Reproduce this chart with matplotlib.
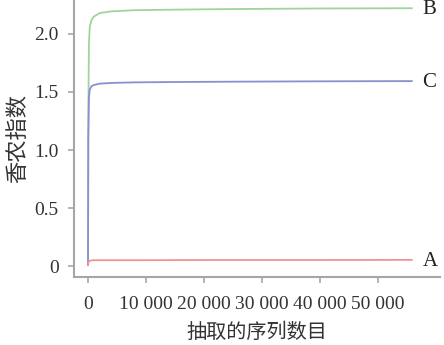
import matplotlib
matplotlib.use("Agg")
import matplotlib.pyplot as plt

# sequences sampled (x) and Shannon index for each sample
depth = [0, 50, 150, 300, 600, 1000, 2000, 4000, 8000, 15000, 25000, 40000, 56000]
shannon_b = [0.0, 1.2, 1.9, 2.06, 2.12, 2.15, 2.18, 2.195, 2.205, 2.21, 2.215, 2.22, 2.222]
shannon_c = [0.0, 1.1, 1.45, 1.52, 1.55, 1.56, 1.572, 1.578, 1.583, 1.586, 1.589, 1.592, 1.594]
shannon_a = [0.0, 0.03, 0.04, 0.045, 0.048, 0.05, 0.05, 0.05, 0.05, 0.051, 0.052, 0.052, 0.053]
labels = ["B", "C", "A"]

xticks = [0, 10000, 20000, 30000, 40000, 50000]
xtick_labels = ["0", "10 000", "20 000", "30 000", "40 000", "50 000"]
yticks = [0, 0.5, 1.0, 1.5, 2.0]
ytick_labels = ["0", "0.5", "1.0", "1.5", "2.0"]

SERIF = ["Liberation Serif", "DejaVu Serif"]
CJK = ["Noto Sans CJK SC", "DejaVu Sans"]
spine_col = "#aaa5a5"

fig = plt.figure(figsize=(4.44, 3.45), dpi=100)
ax = fig.add_axes([0.1667, 0.197, 0.824, 0.803])

series = [(shannon_b, "#9fd49a"), (shannon_c, "#8a8fd2"), (shannon_a, "#f09393")]
for (vals, col), lab in zip(series, labels):
    ax.plot(depth, vals, color=col, lw=1.3, solid_capstyle="butt")
    ax.annotate(lab, xy=(depth[-1], vals[-1]), xytext=(7, -1),
                textcoords="offset points", ha="left", va="center",
                fontsize=15, family=SERIF, color="#222222")

ax.set_xlim(-2414, 60690)
ax.set_ylim(-0.095, 2.293)

ax.set_xticks(xticks)
ax.set_xticklabels(xtick_labels, family=SERIF, fontsize=14, color="#333333")
ax.set_yticks(yticks)
ax.set_yticklabels(ytick_labels, family=SERIF, fontsize=14, color="#333333")

for s in ["top", "right"]:
    ax.spines[s].set_visible(False)
for s in ["left", "bottom"]:
    ax.spines[s].set_color(spine_col)
    ax.spines[s].set_linewidth(1.5)
ax.tick_params(axis="both", color=spine_col, length=4, width=1.2)
ax.tick_params(axis="x", pad=10)
ax.tick_params(axis="y", pad=7)

ax.set_xlabel("抽取的序列数目", family=CJK, fontsize=14.5, color="#333333", labelpad=6)
ax.set_ylabel("香农指数", family=CJK, fontsize=16, color="#333333", labelpad=4)

fig.savefig("out.png", dpi=100)
